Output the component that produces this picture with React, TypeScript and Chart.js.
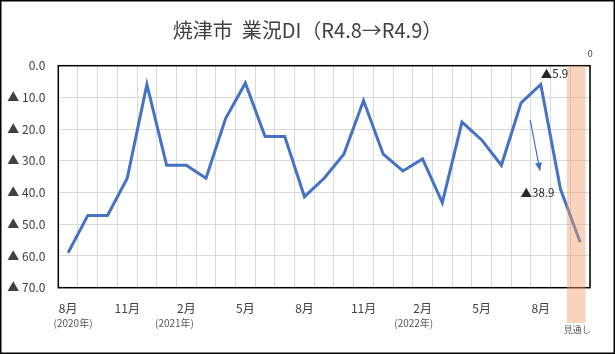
import React, { useEffect, useRef } from "react";
import { Chart, registerables } from "chart.js";

Chart.register(...registerables);

const monthLabels = [
  "8月", "9月", "10月", "11月", "12月", "1月", "2月", "3月", "4月", "5月", "6月", "7月",
  "8月", "9月", "10月", "11月", "12月", "1月", "2月", "3月", "4月", "5月", "6月", "7月",
  "8月", "9月", "見通し",
];

const diValues = [
  -59.0, -47.2, -47.2, -35.5, -5.9, -31.4, -31.4, -35.5, -16.6, -5.5, -22.3, -22.3,
  -41.3, -35.5, -27.9, -11.0, -27.9, -33.2, -29.4, -43.2, -17.8, -23.4, -31.4, -11.7,
  -5.9, -38.9, -55.7,
];

const yearLabels = ["(2020年)", "(2021年)", "(2022年)"];
const yearLabelPos = [0.25, 5.4, 17.55];

const forecastPos = 25.8;
const forecastRange = [0, -81];
const forecastTopLabel = "0";
const forecastBottomLabel = "見通し";

const arrowPoints = [
  { x: 23.46, y: -17.1 },
  { x: 23.96, y: -33.1 },
];

const labelledIdx = [24, 25];

const fmt = (v: number) => (v === 0 ? "0.0" : "▲ " + Math.abs(v).toFixed(1));
const fmtPoint = (v: number) => "▲" + Math.abs(v).toFixed(1);

const FONT = "'Noto Sans CJK JP', 'Noto Sans', sans-serif";

export default function App() {
  const ref = useRef<HTMLCanvasElement | null>(null);

  useEffect(() => {
    document.body.style.margin = "0";
    const canvas = ref.current!;
    Chart.defaults.font.family = FONT;

    const framePlugin = {
      id: "frame",
      beforeDatasetsDraw(chart: any) {
        const { ctx, chartArea: a } = chart;
        ctx.save();
        ctx.strokeStyle = "#000000";
        ctx.lineWidth = 1.5;
        ctx.strokeRect(a.left, a.top, a.right - a.left, a.bottom - a.top);
        ctx.restore();
      },
      afterDraw(chart: any) {
        const { ctx, width, height } = chart;
        ctx.save();
        ctx.strokeStyle = "#000000";
        ctx.lineWidth = 1.5;
        ctx.strokeRect(0.75, 0.75, width - 1.5, height - 1.5);
        ctx.restore();
      },
    };

    const labelPlugin = {
      id: "labels",
      afterDatasetsDraw(chart: any) {
        const ctx = chart.ctx;
        const lineMeta = chart.getDatasetMeta(0);
        const yScale = chart.scales.y;
        ctx.save();
        ctx.fillStyle = "#262626";
        ctx.font = `11.5px ${FONT}`;
        ctx.textBaseline = "middle";
        const e0 = lineMeta.data[labelledIdx[0]];
        ctx.textAlign = "left";
        ctx.fillText(fmtPoint(diValues[labelledIdx[0]]), e0.x, e0.y - 11);
        const e1 = lineMeta.data[labelledIdx[1]];
        ctx.textAlign = "right";
        ctx.fillText(fmtPoint(diValues[labelledIdx[1]]), e1.x - 6, e1.y + 4);

        // arrowhead
        const am = chart.getDatasetMeta(1);
        const p0 = am.data[0];
        const p1 = am.data[1];
        const ang = Math.atan2(p1.y - p0.y, p1.x - p0.x);
        const len = 8;
        const hw = 3.5;
        ctx.fillStyle = "#4472C4";
        ctx.beginPath();
        ctx.moveTo(p1.x, p1.y);
        ctx.lineTo(
          p1.x - len * Math.cos(ang) + hw * Math.sin(ang),
          p1.y - len * Math.sin(ang) - hw * Math.cos(ang)
        );
        ctx.lineTo(
          p1.x - len * Math.cos(ang) - hw * Math.sin(ang),
          p1.y - len * Math.sin(ang) + hw * Math.cos(ang)
        );
        ctx.closePath();
        ctx.fill();

        // forecast bar labels
        const b = chart.getDatasetMeta(2).data[0];
        ctx.fillStyle = "#404040";
        ctx.textAlign = "center";
        ctx.font = `9px ${FONT}`;
        ctx.fillText(forecastTopLabel, b.x + 14, yScale.getPixelForValue(forecastRange[0]) - 12.5);
        ctx.fillStyle = "#595959";
        ctx.fillText(forecastBottomLabel, b.x + 1, yScale.getPixelForValue(forecastRange[1]) + 7);
        ctx.restore();
      },
    };

    const chart = new Chart(canvas, {
      type: "line",
      data: {
        labels: monthLabels,
        datasets: [
          {
            type: "line",
            data: diValues,
            borderColor: "#4472C4",
            borderWidth: 3,
            pointRadius: 0,
            tension: 0,
            order: 2,
            xAxisID: "x",
          } as any,
          {
            type: "line",
            data: arrowPoints,
            borderColor: "#4472C4",
            borderWidth: 1.2,
            pointRadius: 0,
            order: 1,
            xAxisID: "xYear",
          } as any,
          {
            type: "bar",
            data: [{ x: forecastPos, y: forecastRange }],
            backgroundColor: "rgba(240,160,110,0.45)",
            borderWidth: 0,
            barThickness: 18,
            grouped: false,
            clip: false,
            order: 0,
            xAxisID: "xYear",
          } as any,
        ],
      },
      options: {
        responsive: false,
        animation: false,
        layout: { padding: 0 },
        plugins: {
          legend: { display: false },
          tooltip: { enabled: false },
          title: {
            display: true,
            text: "焼津市  業況DI（R4.8→R4.9）",
            color: "#404040",
            font: { size: 20, weight: "normal", family: FONT, lineHeight: 1.2 },
            padding: { top: 18, bottom: 23.7 },
          },
        },
        scales: {
          x: {
            type: "category",
            position: "bottom",
            offset: true,
            grid: { offset: true, color: "#D9D9D9", lineWidth: 1, drawTicks: false },
            border: { display: false },
            ticks: {
              autoSkip: false,
              maxRotation: 0,
              padding: 13.4,
              color: "#404040",
              font: { size: 12, family: FONT },
              callback: (_v: any, i: number) => (i % 3 === 0 && i <= 24 ? monthLabels[i] : ""),
            },
            afterFit: (s: any) => {
              s.height = 28;
            },
          },
          xYear: {
            type: "linear",
            position: "bottom",
            min: -0.5,
            max: 26.5,
            offset: false,
            bounds: "data",
            grid: { display: false, drawTicks: false, offset: false },
            border: { display: false },
            afterBuildTicks: (s: any) => {
              s.ticks = yearLabelPos.map((v) => ({ value: v }));
            },
            ticks: {
              autoSkip: false,
              maxRotation: 0,
              padding: 2,
              color: "#595959",
              font: { size: 10, family: FONT },
              callback: (_v: any, i: number) => yearLabels[i] ?? "",
            },
            afterFit: (s: any) => {
              s.height = 354 - 287.7 - 28;
            },
          },
          y: {
            type: "linear",
            position: "left",
            min: -70,
            max: 0,
            grid: { color: "#D9D9D9", lineWidth: 1, drawTicks: false },
            border: { display: false },
            ticks: {
              stepSize: 10,
              padding: 13,
              color: "#404040",
              font: { size: 12, family: FONT },
              callback: (v: any) => fmt(Number(v)),
            },
            afterFit: (s: any) => {
              s.width = 58.3;
            },
          },
          yRight: {
            type: "linear",
            position: "right",
            display: true,
            grid: { display: false, drawTicks: false },
            border: { display: false },
            ticks: { display: false },
            afterFit: (s: any) => {
              s.width = 25;
            },
          },
        },
      } as any,
      plugins: [framePlugin, labelPlugin],
    });

    return () => chart.destroy();
  }, []);

  return <canvas ref={ref} width={615} height={354} style={{ display: "block" }} />;
}
